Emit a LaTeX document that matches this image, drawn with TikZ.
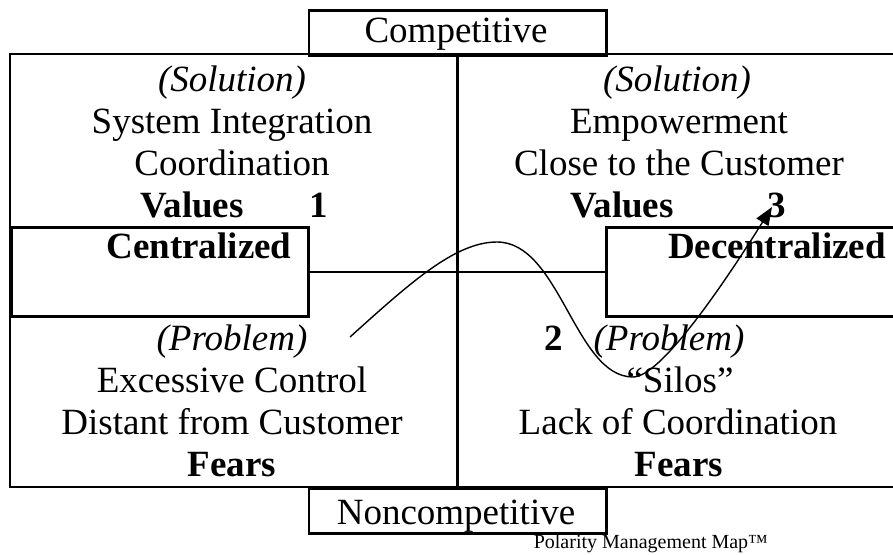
\documentclass[tikz,border=0pt]{standalone}
\usepackage{fontspec}
\setmainfont{Liberation Serif}
\usetikzlibrary{arrows.meta}
\begin{document}
\begin{tikzpicture}[x=1pt,y=-1pt,
  boxline/.style={draw=black,line width=2.6pt},
  boxnode/.style={boxline,inner sep=0pt,anchor=north west},
  txt/.style={inner sep=0pt,anchor=base,font=\fontsize{37}{42}\selectfont},
  btxt/.style={txt,font=\fontsize{37}{42}\selectfont\bfseries},
  itxt/.style={txt,font=\fontsize{37}{42}\selectfont\itshape},
  flow/.style={draw=black,line width=1.4pt,-{Triangle[length=18pt,width=14pt]}}]
\clip (0,0) rectangle (893,554);
\fill[white] (0,0) rectangle (893,554);
% frame
\draw[boxline] (10,54) rectangle (910,487);
\node[boxnode,minimum width=297.5pt,minimum height=45pt] (comp) at (307.5,9) {};
\node[boxnode,minimum width=297.5pt,minimum height=45pt] (noncomp) at (307.5,487) {};
\draw[boxline] (comp.south) -- (noncomp.north);
\node[boxnode,fill=white,minimum width=297pt,minimum height=89pt] (cen) at (10,226) {};
\node[boxnode,fill=white,minimum width=305pt,minimum height=89pt] (dec) at (605,226) {};
\draw[boxline] (cen.east) -- (dec.west);
% texts
\node[txt] (tcomp) at (456,42) {Competitive};
\node[txt] (tnon) at (456,524) {Noncompetitive};
\node[btxt] (tcen) at (199,258) {Centralized};
\node[btxt] (tdec) at (777,258) {Decentralized};
% left top
\node[itxt] (ls) at (232,91) {(Solution)};
\node[txt] (ls1) at (232,133) {System Integration};
\node[txt] (ls2) at (232,175) {Coordination};
\node[btxt,anchor=base west] (lv) at (140,217) {Values};
\node[btxt] (n1) at (319,217) {1};
% right top
\node[itxt] (rs) at (677,91) {(Solution)};
\node[txt] (rs1) at (679,133) {Empowerment};
\node[txt] (rs2) at (679,175) {Close to the Customer};
\node[btxt,anchor=base west] (rv) at (570,217) {Values};
\node[btxt] (n3) at (777,217) {3};
% left bottom
\node[itxt] (lp) at (232,350) {(Problem)};
\node[txt] (lp1) at (232,392) {Excessive Control};
\node[txt] (lp2) at (232,434) {Distant from Customer};
\node[btxt] (lf) at (232,476) {Fears};
% right bottom
\node[btxt] (n2) at (554,350) {2};
\node[itxt] (rp) at (669,350) {(Problem)};
\node[txt] (rp1) at (680,392) {“Silos”};
\node[txt] (rp2) at (678,434) {Lack of Coordination};
\node[btxt] (rf) at (679,476) {Fears};
% footer
\node[inner sep=0pt,anchor=base east,font=\fontsize{20}{24}\selectfont] (pmm) at (768,548) {Polarity Management Map™};
% curve
\coordinate (s) at (350,337);
\coordinate (p) at (497,242);
\coordinate (b) at (633,377);
\coordinate (t) at (772,207);
\draw[flow] (s) .. controls (410,283) and (455,242) .. (p)
  .. controls (560,242) and (575,377) .. (b)
  .. controls (660,377) and (720,290) .. (t);
\end{tikzpicture}
\end{document}
